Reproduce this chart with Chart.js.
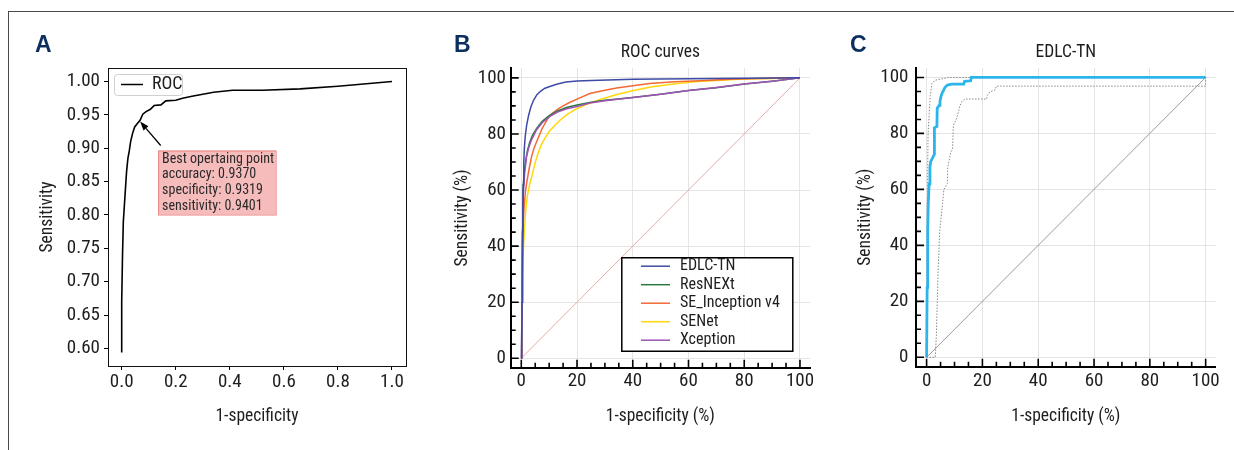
<!DOCTYPE html>
<html><head><meta charset="utf-8">
<script src="https://cdn.jsdelivr.net/npm/chart.js@4.4.1/dist/chart.umd.min.js"></script>
<style>
html,body{margin:0;padding:0;background:#fff;}
body{width:1234px;height:450px;position:relative;overflow:hidden;}
#frame{position:absolute;left:8px;top:11px;width:1226px;height:439px;border-top:1px solid #4a4a4a;border-left:1px solid #4a4a4a;box-sizing:border-box;}
canvas{position:absolute;top:0;}
.lbl{position:absolute;font:bold 23px 'Liberation Sans',Arial,sans-serif;line-height:23px;color:#0d2f5f;}
</style></head><body>
<div id="frame"></div>
<canvas id="cA" width="420" height="450" style="left:0"></canvas>
<canvas id="cB" width="410" height="450" style="left:420px"></canvas>
<canvas id="cC" width="404" height="450" style="left:830px"></canvas>
<div class="lbl" style="left:35px;top:33px">A</div>
<div class="lbl" style="left:454px;top:33px">B</div>
<div class="lbl" style="left:850px;top:33px">C</div>
<script>
// ---------- Panel A data ----------
const aFpr = [0,0,0.003,0.006,0.010,0.014,0.018,0.023,0.028,0.033,0.040,0.048,0.058,0.068,0.078,0.090,0.105,0.120,0.145,0.163,0.200,0.225,0.260,0.300,0.340,0.410,0.520,0.660,0.800,1.000];
const aTpr = [0.594,0.670,0.740,0.790,0.815,0.840,0.865,0.885,0.896,0.910,0.922,0.932,0.937,0.942,0.951,0.955,0.958,0.964,0.965,0.971,0.972,0.975,0.978,0.981,0.984,0.987,0.987,0.989,0.993,1.000];
const aXTicks = [0,0.2,0.4,0.6,0.8,1.0];
const aYTicks = [0.60,0.65,0.70,0.75,0.80,0.85,0.90,0.95,1.00];
const aBestAccuracy = 0.9370, aBestSpecificity = 0.9319, aBestSensitivity = 0.9401;

// ---------- Panel B data ----------
const bLabels = ['EDLC-TN','ResNEXt','SE_Inception v4','SENet','Xception'];
const bEdlcFpr = [0,0.3,0.5,0.7,0.9,1.1,1.4,1.9,2.6,3.4,4.4,5.6,7,8.5,10.5,13,16,20,25,40,60,80,100];
const bEdlcTpr = [0,20,45,62,70,75,79,83,86.5,89.5,92,94,95.3,96.3,97,97.8,98.5,98.9,99.1,99.5,99.7,99.9,100];
const bResFpr = [0,0.2,0.4,0.6,1.0,1.5,2.2,3,4,5.5,7.5,10,13,16.5,20,25,30,40,50,60,70,80,90,100];
const bResTpr = [0,20,45,60,66,70,74,77,79.5,82,84.5,86.5,88.2,89.5,90.3,91.3,92,93,94.2,95.5,96.5,97.8,98.8,100];
const bSeiFpr = [0,0.2,0.4,0.7,1.0,1.5,2,2.8,3.7,4.6,6,7.5,9.4,11,13,15,17.5,20,24.6,30,34.2,40,46,55,64,75,85,100];
const bSeiTpr = [0,15,35,48,54,59.5,63,67.5,72,75,78.5,82,85.3,87.3,88.8,90,91.3,92.4,94.4,95.6,96.4,97.2,98,98.6,99,99.5,99.8,100];
const bSenFpr = [0,0.2,0.5,0.8,1.2,1.6,2.2,3,3.7,4.9,6,7,8.5,10.3,12,13.9,16.5,19.9,24,28.3,34,40.2,47,54.6,62,70,80,90,100];
const bSenTpr = [0,12,30,40,47,53,58,62,64.5,69.5,73,75.8,78.5,81.2,83,84.9,87,89,90.8,92.3,94,95.5,96.8,97.8,98.6,99.1,99.6,99.8,100];
const bXcpFpr = [0,0.2,0.4,0.7,1.2,1.9,2.8,3.7,5.5,7.5,10.3,13,16.3,20,24.6,30,40,50,60,70,80,90,100];
const bXcpTpr = [0,18,40,58,66,72,75.5,78,81.5,84,86.3,87.8,89,89.8,91,91.8,93,94.2,95.5,96.6,97.8,98.8,100];
const diagX = [0,100], diagY = [0,100];

// ---------- Panel C data ----------
const cFpr = [0,0.2,0.4,0.6,0.9,1.2,1.5,2.5,2.8,2.8,3.7,3.8,4.5,4.8,5.1,5.6,6.1,6.6,7.5,9,13.3,13.6,15.8,16,100];
const cTpr = [0,25,45,55,62,68,70,72,72.5,82,82.5,89,90,91.5,93,94.5,95.5,96.5,97.3,97.6,97.6,98.6,98.8,100,100];
const cUpFpr = [0,0.1,0.3,0.5,0.9,1.3,1.9,3,7.9,100];
const cUpTpr = [0,20,55,79,86.5,93.5,97.8,99,100,100];
const cLoFpr = [0,3.1,3.5,4.1,4.7,5.4,6.2,7.4,7.6,8.6,9.3,9.6,10.8,12,12.7,13.8,21.5,21.7,22.7,24.5,25,100,100];
const cLoTpr = [0,0,8,30,45,52,60,62,68,73,74.5,83,85.5,90,91.5,92.3,92.3,93.5,94.9,95.5,96.9,96.9,100];

// tick values for B and C (percent axes)
const pctMajorTicks = [0,20,40,60,80,100];
const pctAllTicks = [0,5,10,15,20,25,30,35,40,45,50,55,60,65,70,75,80,85,90,95,100];

const pts = (xs, ys) => xs.map((x, i) => ({x, y: ys[i]}));

const FAM = "'Roboto Condensed','Liberation Sans',Arial,sans-serif";
Chart.defaults.font.family = FAM;
Chart.defaults.font.size = 19;
Chart.defaults.color = '#1e1e1e';
Chart.defaults.animation = false;
const TITLE_FONT = {size: 17.5};

// ---------- plugins ----------
const frameBox = {
  id: 'frameBox',
  afterDraw(chart, args, o) {
    if (!o.show) return;
    const {ctx, chartArea: a} = chart;
    ctx.save(); ctx.strokeStyle = '#111'; ctx.lineWidth = 1;
    ctx.strokeRect(Math.round(a.left) + 0.5, Math.round(a.top) + 0.5, Math.round(a.right - a.left), Math.round(a.bottom - a.top));
    ctx.restore();
  }
};

const innerTicks = {
  id: 'innerTicks',
  afterDraw(chart, args, o) {
    if (!o.show) return;
    const {ctx, chartArea: a, scales: {x, y}} = chart;
    ctx.save(); ctx.strokeStyle = '#000'; ctx.lineWidth = 1.6;
    ctx.beginPath();
    pctAllTicks.forEach(v => {
      const len = pctMajorTicks.includes(v) ? 8 : 5;
      const px = x.getPixelForValue(v);
      ctx.moveTo(px, a.bottom); ctx.lineTo(px, a.bottom - len);
      const py = y.getPixelForValue(v);
      ctx.moveTo(a.left, py); ctx.lineTo(a.left + len, py);
    });
    ctx.stroke(); ctx.restore();
  }
};

const boxLegend = {
  id: 'boxLegend',
  afterDraw(chart, args, o) {
    if (!o.show) return;
    const ctx = chart.ctx;
    const [x0, y0, x1, y1] = o.rect;
    ctx.save();
    ctx.beginPath();
    if (o.radius) ctx.roundRect(x0 + 0.5, y0 + 0.5, x1 - x0, y1 - y0, o.radius);
    else ctx.rect(x0 + 0.5, y0 + 0.5, x1 - x0, y1 - y0);
    ctx.fillStyle = 'rgba(255,255,255,0.9)'; ctx.fill();
    ctx.strokeStyle = o.border; ctx.lineWidth = o.borderWidth; ctx.stroke();
    const items = chart.data.datasets.filter(d => d.label);
    ctx.font = o.fontSize + 'px ' + FAM;
    ctx.textBaseline = 'middle'; ctx.textAlign = 'left';
    items.forEach((d, i) => {
      const cy = o.firstY + i * o.rowH;
      ctx.strokeStyle = d.borderColor; ctx.lineWidth = o.lineW;
      ctx.beginPath(); ctx.moveTo(o.lineX[0], cy); ctx.lineTo(o.lineX[1], cy); ctx.stroke();
      ctx.fillStyle = '#1e1e1e';
      ctx.fillText(d.label, o.textX, cy);
    });
    ctx.restore();
  }
};

const bestPoint = {
  id: 'bestPoint',
  afterDatasetsDraw(chart, args, o) {
    if (!o.show) return;
    const {ctx, scales: {x, y}} = chart;
    const px = x.getPixelForValue(1 - aBestSpecificity);
    const py = y.getPixelForValue(aBestSensitivity);
    ctx.save();
    const bx = px + 18, by = py + 29, bw = 117.5, bh = 64;
    ctx.fillStyle = '#f6bcbc'; ctx.fillRect(bx, by, bw, bh);
    ctx.strokeStyle = '#e98585'; ctx.lineWidth = 1; ctx.strokeRect(bx + 0.5, by + 0.5, bw, bh);
    ctx.fillStyle = '#2a2a2a';
    ctx.font = '14px ' + FAM;
    ctx.textBaseline = 'middle'; ctx.textAlign = 'left';
    const lines = ['Best opertaing point',
      'accuracy: ' + aBestAccuracy.toFixed(4),
      'specificity: ' + aBestSpecificity.toFixed(4),
      'sensitivity: ' + aBestSensitivity.toFixed(4)];
    lines.forEach((t, i) => ctx.fillText(t, bx + 4, by + 8.5 + i * 15.8));
    // arrow
    const sx = px + 20.6, sy = py + 24;
    const ang = Math.atan2(py - sy, px - sx);
    const hl = 9, hw = 3.2;
    const bxh = px - hl * Math.cos(ang), byh = py - hl * Math.sin(ang);
    ctx.strokeStyle = '#000'; ctx.lineWidth = 1.3;
    ctx.beginPath(); ctx.moveTo(sx, sy); ctx.lineTo(bxh, byh); ctx.stroke();
    ctx.fillStyle = '#000';
    ctx.beginPath();
    ctx.moveTo(px, py);
    ctx.lineTo(bxh + hw * Math.sin(ang), byh - hw * Math.cos(ang));
    ctx.lineTo(bxh - hw * Math.sin(ang), byh + hw * Math.cos(ang));
    ctx.closePath(); ctx.fill();
    ctx.restore();
  }
};

const allPlugins = [frameBox, innerTicks, boxLegend, bestPoint];
const line = (label, xs, ys, color, width, extra) => Object.assign({
  label, data: pts(xs, ys), borderColor: color, backgroundColor: color, borderWidth: width,
  pointRadius: 0, fill: false, tension: 0
}, extra || {});
const setTicks = arr => s => { s.ticks = arr.map(v => ({value: v})); };

// ---------- Chart A ----------
new Chart(document.getElementById('cA'), {
  type: 'line',
  data: {datasets: [line('ROC', aFpr, aTpr, '#000', 1.6)]},
  options: {
    responsive: false,
    layout: {padding: {top: 68, right: 14, left: 0, bottom: 0}},
    plugins: {
      legend: {display: false}, tooltip: {enabled: false},
      frameBox: {show: true}, innerTicks: {show: false}, bestPoint: {show: true},
      boxLegend: {show: true, rect: [114, 74, 182, 95], radius: 3, border: '#cfcfcf', borderWidth: 1,
        firstY: 84.5, rowH: 18, lineX: [121, 143], textX: 152, lineW: 1.5, fontSize: 18}
    },
    scales: {
      x: {type: 'linear', min: -0.0507, max: 1.0518,
        afterBuildTicks: setTicks(aXTicks), afterFit: s => { s.height = 84; },
        ticks: {callback: v => v.toFixed(1), padding: 0.5, maxRotation: 0},
        grid: {drawOnChartArea: false, drawTicks: true, tickLength: 4, color: '#000'},
        border: {display: false},
        title: {display: true, text: '1-specificity', font: TITLE_FONT, padding: {top: 0, bottom: 23}}},
      y: {type: 'linear', min: 0.5737, max: 1.0203,
        afterBuildTicks: setTicks(aYTicks), afterFit: s => { s.width = 108; },
        ticks: {callback: v => v.toFixed(2), padding: 4},
        grid: {drawOnChartArea: false, drawTicks: true, tickLength: 4, color: '#000'},
        border: {display: false},
        title: {display: true, text: 'Sensitivity', font: TITLE_FONT, padding: {top: 37.5, bottom: 0}}}
    }
  },
  plugins: allPlugins
});

// ---------- percent-axis factory for B and C ----------
function pctScales(o) {
  return {
    x: {type: 'linear', min: -3.8, max: 103.6,
      afterBuildTicks: setTicks(pctMajorTicks), afterFit: s => { s.height = o.xh; },
      ticks: {padding: o.xpad, maxRotation: 0},
      grid: {color: '#e4e4e4', lineWidth: 1, drawTicks: false},
      border: {display: true, color: '#000', width: 2},
      title: {display: true, text: '1-specificity (%)', font: TITLE_FONT, padding: {top: 0, bottom: 23}}},
    y: {type: 'linear', min: -3.36, max: 103.45,
      afterBuildTicks: setTicks(pctMajorTicks), afterFit: s => { s.width = o.yw; },
      ticks: {padding: o.ypad},
      grid: {color: '#e4e4e4', lineWidth: 1, drawTicks: false},
      border: {display: true, color: '#000', width: 2},
      title: {display: true, text: 'Sensitivity (%)', font: TITLE_FONT, padding: {top: o.ytp, bottom: 0}}}
  };
}

// ---------- Chart B ----------
new Chart(document.getElementById('cB'), {
  type: 'line',
  data: {datasets: [
    line(bLabels[0], bEdlcFpr, bEdlcTpr, '#3d4ba6', 1.5, {order: -2}),
    line(bLabels[1], bResFpr, bResTpr, '#2b7a44', 1.5),
    line(bLabels[2], bSeiFpr, bSeiTpr, '#f26a35', 1.5),
    line(bLabels[3], bSenFpr, bSenTpr, '#ffd80a', 1.5),
    line(bLabels[4], bXcpFpr, bXcpTpr, '#a052b4', 1.5, {order: -1}),
    line('', diagX, diagY, '#e3a3a3', 0.9, {order: 5})
  ]},
  options: {
    responsive: false,
    layout: {padding: {top: 0, right: 20, left: 0, bottom: 0}},
    plugins: {
      legend: {display: false}, tooltip: {enabled: false},
      title: {display: true, text: 'ROC curves', fullSize: false, font: {size: 17.5, weight: 'normal'},
        color: '#1e1e1e', padding: {top: 42.2, bottom: 5}},
      frameBox: {show: false}, innerTicks: {show: true}, bestPoint: {show: false},
      boxLegend: {show: true, rect: [201.3, 257.3, 372.3, 350.7], radius: 0, border: '#000', borderWidth: 1.5,
        firstY: 266.2, rowH: 18.5, lineX: [221, 250], textX: 260, lineW: 1.5, fontSize: 16}
    },
    scales: pctScales({xh: 82.3, yw: 90.7, xpad: 2.3, ypad: 4.7, ytp: 32.2})
  },
  plugins: allPlugins
});

// ---------- Chart C ----------
new Chart(document.getElementById('cC'), {
  type: 'line',
  data: {datasets: [
    line('', cFpr, cTpr, '#2cb5ea', 2.8),
    line('', cUpFpr, cUpTpr, '#8a8a8a', 1, {borderDash: [1.5, 1.5]}),
    line('', cLoFpr, cLoTpr, '#8a8a8a', 1, {borderDash: [1.5, 1.5]}),
    line('', diagX, diagY, '#8e8e8e', 0.9)
  ]},
  options: {
    responsive: false,
    layout: {padding: {top: 0, right: 18.3, left: 0, bottom: 0}},
    plugins: {
      legend: {display: false}, tooltip: {enabled: false},
      title: {display: true, text: 'EDLC-TN', fullSize: false, font: {size: 17.5, weight: 'normal'},
        color: '#1e1e1e', padding: {top: 42.2, bottom: 4.6}},
      frameBox: {show: false}, innerTicks: {show: true}, bestPoint: {show: false}, boxLegend: {show: false}
    },
    scales: pctScales({xh: 83.3, yw: 86, xpad: 3.3, ypad: 7.5, ytp: 25.5})
  },
  plugins: allPlugins
});
</script>
</body></html>
